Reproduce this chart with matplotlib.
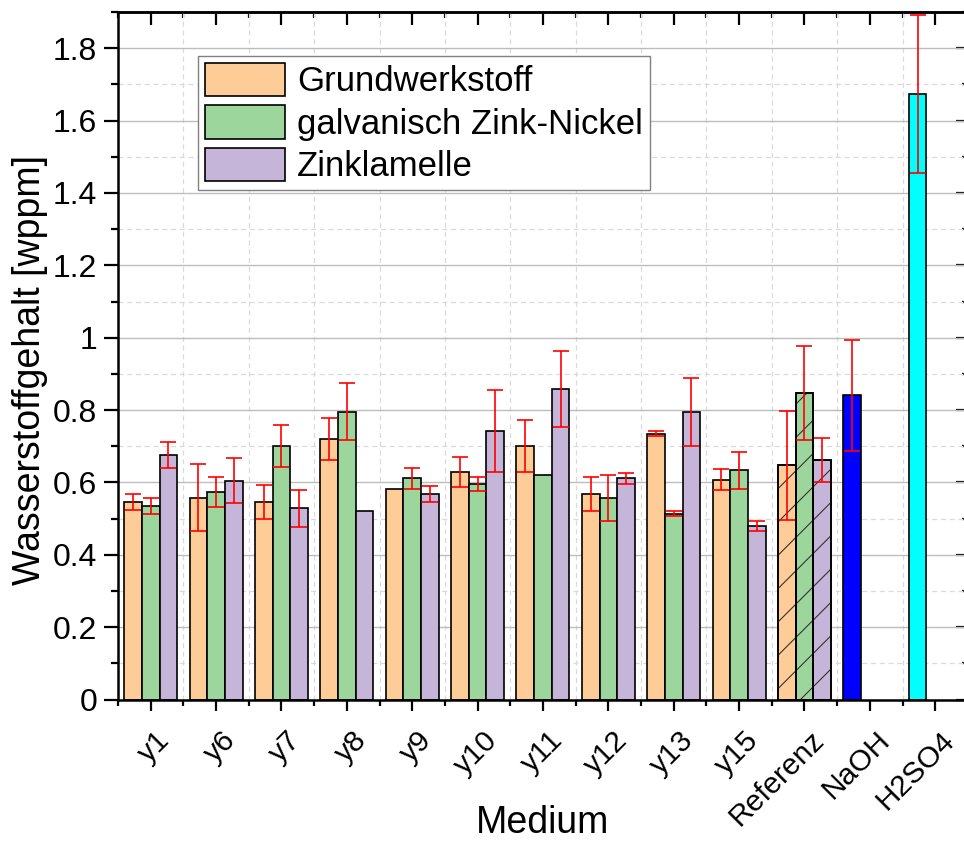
import numpy as np
import matplotlib
matplotlib.use("Agg")
import matplotlib.pyplot as plt
import matplotlib.transforms as mtransforms
from matplotlib.ticker import MultipleLocator, FixedLocator

plt.rcParams['font.family'] = ['Liberation Sans', 'DejaVu Sans']
plt.rcParams['hatch.linewidth'] = 0.8

# data
categories = ['y1', 'y6', 'y7', 'y8', 'y9', 'y10', 'y11', 'y12', 'y13', 'y15',
              'Referenz', 'NaOH', 'H2SO4']
series_names = ['Grundwerkstoff', 'galvanisch Zink-Nickel', 'Zinklamelle']

grund = [0.546, 0.558, 0.546, 0.720, 0.582, 0.629, 0.701, 0.568, 0.735, 0.608, 0.647]
grund_err = [0.021, 0.092, 0.048, 0.057, 0.0, 0.042, 0.071, 0.048, 0.007, 0.028, 0.150]
zn_ni = [0.536, 0.573, 0.701, 0.796, 0.611, 0.595, 0.620, 0.557, 0.514, 0.633, 0.847]
zn_ni_err = [0.022, 0.041, 0.057, 0.078, 0.028, 0.020, 0.0, 0.063, 0.007, 0.050, 0.131]
lamelle = [0.675, 0.605, 0.528, 0.522, 0.568, 0.743, 0.858, 0.611, 0.795, 0.479, 0.661]
lamelle_err = [0.036, 0.062, 0.050, 0.0, 0.022, 0.113, 0.105, 0.014, 0.093, 0.014, 0.061]

single_names = ['NaOH', 'H2SO4']
single_vals = [0.841, 1.673]
single_err = [0.153, 0.218]

colors = ['#FECC96', '#9DD69D', '#C5B5D8']
single_colors = ['#0000FF', '#00FFFF']

fig = plt.figure(figsize=(9.64, 8.41), dpi=100)
ax = fig.add_axes([0.1224, 0.1682, 0.8817, 0.8175])

width = 0.27
x = np.arange(len(categories))
n_ref = categories.index('Referenz')

vals = [grund, zn_ni, lamelle]
errs = [grund_err, zn_ni_err, lamelle_err]

for k in range(3):
    pos = x[:len(vals[k])] + (k - 1) * width
    v = np.array(vals[k])
    e = np.array(errs[k])
    ax.bar(pos, v, width, color=colors[k], edgecolor='black', linewidth=1.2,
           label=series_names[k], zorder=2)
    # hatched overlay for the reference group
    ax.bar(pos[n_ref], v[n_ref], width, fill=False, hatch='/', edgecolor='#333333',
           linewidth=0, zorder=2.5)
    ax.bar(pos[n_ref], v[n_ref], width, fill=False, edgecolor='black',
           linewidth=1.2, zorder=2.6)
    m = e > 0
    ax.errorbar(pos[m], v[m], yerr=e[m], fmt='none', ecolor='red', elinewidth=1.2,
                capsize=5.5, capthick=1.2, zorder=3)

for name, val, err, col in zip(single_names, single_vals, single_err, single_colors):
    p = categories.index(name) - width
    ax.bar(p, val, width, color=col, edgecolor='black', linewidth=1.2, zorder=2)
    ax.errorbar(p, val, yerr=err, fmt='none', ecolor='red', elinewidth=1.2,
                capsize=5.5, capthick=1.2, zorder=3)

ax.set_xlim(-0.5, len(categories) - 0.5)
ax.set_ylim(0, 1.9)

ax.set_xticks(x)
ax.set_xticklabels(categories, rotation=45, ha='right', va='top', fontsize=21.5)
ax.xaxis.set_minor_locator(FixedLocator(np.arange(-0.5, len(categories), 1.0)))
ax.yaxis.set_minor_locator(MultipleLocator(0.1))
ax.set_yticks(np.arange(0, 1.81, 0.2))
ax.set_yticklabels(['0', '0.2', '0.4', '0.6', '0.8', '1', '1.2', '1.4', '1.6', '1.8'])

ax.tick_params(axis='y', which='major', direction='out', length=10, width=1.6,
               labelsize=23, pad=5)
ax.tick_params(axis='y', which='minor', direction='out', length=5, width=1.6)
ax.tick_params(axis='x', which='major', direction='out', length=8, width=1.6, pad=11)
ax.tick_params(axis='x', which='minor', direction='out', length=4.5, width=1.6)

# shift rotated category labels to the right, as in the original
for lbl in ax.get_xticklabels():
    lbl.set_transform(lbl.get_transform() +
                      mtransforms.ScaledTranslation(0.25, 0, fig.dpi_scale_trans))

# mirrored ticks pointing inward on top and right
top = ax.secondary_xaxis('top')
top.set_xticks(x)
top.xaxis.set_minor_locator(FixedLocator(np.arange(-0.5, len(categories), 1.0)))
top.tick_params(which='major', direction='in', length=9, width=1.6, labeltop=False)
top.tick_params(which='minor', direction='in', length=4.5, width=1.6)
top.spines['top'].set_linewidth(1.8)
right = ax.secondary_yaxis('right')
right.set_yticks(np.arange(0, 1.81, 0.2))
right.yaxis.set_minor_locator(MultipleLocator(0.1))
right.tick_params(which='major', direction='in', length=9, width=1.6, labelright=False)
right.tick_params(which='minor', direction='in', length=4.5, width=1.6)

for s in ax.spines.values():
    s.set_linewidth(1.8)

ax.set_axisbelow(True)
ax.grid(axis='y', which='major', color='#BDBDBD', linewidth=1.0, linestyle='-')
ax.grid(axis='y', which='minor', color='#DADADA', linewidth=0.9, linestyle=(0, (4, 3)))
ax.grid(axis='x', which='minor', color='#DADADA', linewidth=0.9, linestyle=(0, (4, 3)))

ax.set_xlabel('Medium', fontsize=27, va='center')
ax.xaxis.set_label_coords(0.5, -0.18)
ax.set_ylabel('Wasserstoffgehalt [wppm]', fontsize=27, va='center')
ax.yaxis.set_label_coords(-0.104, 0.479)

leg = ax.legend(loc='upper left', bbox_to_anchor=(0.094, 0.936), borderaxespad=0,
                fontsize=25, handlelength=2.3, handleheight=1.1, labelspacing=0.2,
                handletextpad=0.35, borderpad=0.2, fancybox=False, framealpha=1,
                edgecolor='#808080')
leg.get_frame().set_linewidth(1.0)

fig.savefig('out.png', dpi=100)
